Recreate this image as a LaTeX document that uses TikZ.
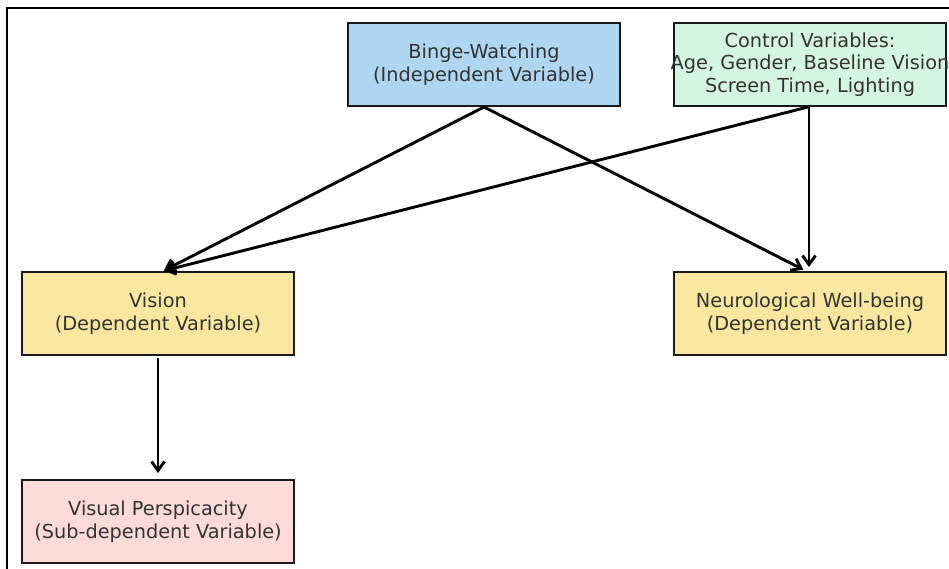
\documentclass[tikz,border=0pt]{standalone}
\usepackage{fontspec}
\setmainfont{DejaVu Sans}
\usetikzlibrary{arrows.meta}
\definecolor{cblue}{HTML}{AED6F1}
\definecolor{cgreen}{HTML}{D5F5E3}
\definecolor{cyellow}{HTML}{F9E79F}
\definecolor{cpink}{HTML}{FADBD8}
\definecolor{ctext}{HTML}{333333}
\tikzset{
  boxtext/.style={align=center, text=ctext, font=\fontsize{19.3}{22.8}\selectfont},
  varbox/.style={boxtext, draw=black!90, line width=2pt, minimum width=272pt, minimum height=83pt,
    inner sep=0pt},
  conn/.style={draw=black, line width=2.9pt, -{Straight Barb[length=9pt,width=13pt,line width=2.9pt]}},
  frameline/.style={draw=black, line width=1.2pt}
}
\begin{document}
\begin{tikzpicture}[x=1pt,y=-1pt]
\useasboundingbox (0,0) rectangle (949,569);
\fill[white] (0,0) rectangle (949,569);
\draw[frameline] (7,569) -- (7,8) -- (949,8);
\begin{scope}
\clip (0,0) rectangle (947.5,569);
\node[varbox, fill=cblue] (bw) at (484,64.5) {Binge-Watching\\(Independent Variable)};
\node[varbox, fill=cgreen] (cv) at (810,64.5) {};
\node[boxtext, inner sep=0pt] (cvt) at (cv.center) {Control Variables:\\Age, Gender, Baseline Vision\\Screen Time, Lighting};
\node[varbox, fill=cyellow] (vis) at (158,313.5) {Vision\\(Dependent Variable)};
\node[varbox, fill=cyellow] (neu) at (810,313.5) {Neurological Well-being\\(Dependent Variable)};
\node[varbox, fill=cpink] (vp) at (158,521.5) {Visual Perspicacity\\(Sub-dependent Variable)};
\end{scope}
\draw[conn, shorten >=1pt] (bw.south) -- ([xshift=5pt]vis.north);
\draw[conn, shorten >=3pt] (bw.south) -- ([xshift=-4pt]neu.north);
\draw[conn, shorten >=1pt] ([xshift=-2pt]cv.south) -- ([xshift=5pt]vis.north);
\draw[conn, shorten >=4pt] ([xshift=-1pt]cv.south) -- ([xshift=-1pt]neu.north);
\draw[conn, shorten <=2pt, shorten >=6pt] (vis.south) -- (vp.north);
\end{tikzpicture}
\end{document}
